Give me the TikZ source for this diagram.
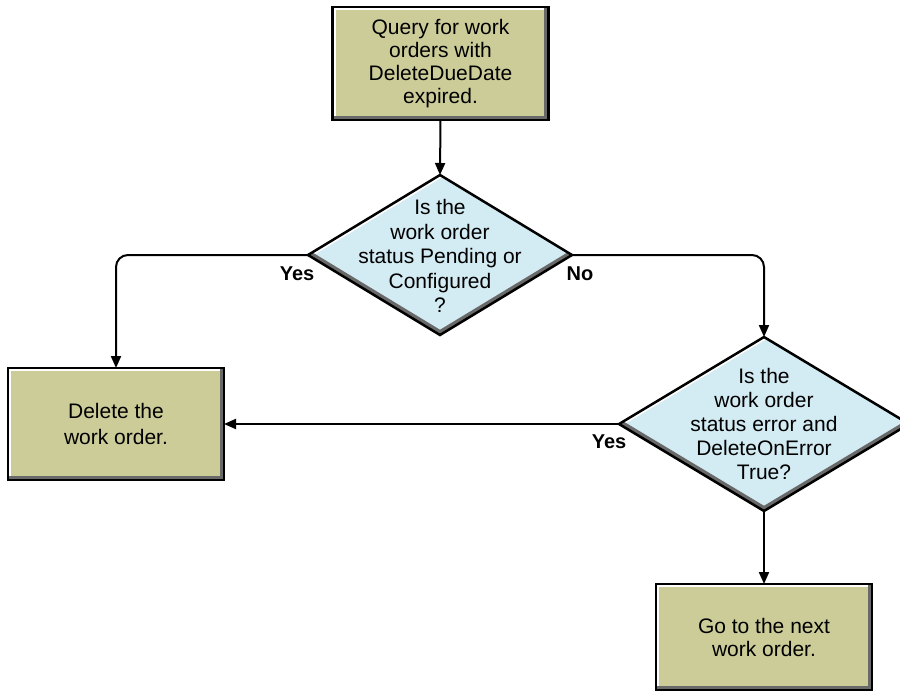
\documentclass[tikz,border=0pt]{standalone}
\usepackage{fontspec}
\setmainfont{Liberation Sans}
\usetikzlibrary{shapes.geometric,arrows.meta}
\definecolor{boxfill}{RGB}{204,204,153}
\definecolor{decfill}{RGB}{211,235,242}
\definecolor{shadegray}{RGB}{105,105,105}
\begin{document}
\begin{tikzpicture}[x=1pt,y=-1pt,
  procbox/.style={draw=black, line width=2.5pt, fill=boxfill, minimum width=216pt,
    minimum height=112pt, inner sep=0pt, outer sep=0pt, align=center,
    font=\fontsize{21}{23}\selectfont,
    path picture={
      \draw[white,line width=6pt] (path picture bounding box.south west) -- (path picture bounding box.north west) -- (path picture bounding box.north east);
      \draw[shadegray,line width=9pt] (path picture bounding box.north east) -- (path picture bounding box.south east) -- (path picture bounding box.south west);
    }},
  decision/.style={diamond, draw=black, line width=2.5pt, fill=decfill, inner sep=0pt,
    outer sep=0pt,
    path picture={
      \draw[white,line width=6pt] (path picture bounding box.west) -- (path picture bounding box.north);
      \draw[shadegray,line width=9pt] (path picture bounding box.west) -- (path picture bounding box.south) -- (path picture bounding box.east);
    }},
  dectext/.style={align=center, inner sep=0pt, font=\fontsize{21}{24.5}\selectfont},
  lbl/.style={inner sep=0pt, font=\fontsize{20}{22}\selectfont\bfseries},
  conn/.style={line width=2pt, -{Triangle[length=12pt,width=10pt]}}
]
\useasboundingbox (0,0) rectangle (900,696);
\clip (0,0) rectangle (900,696);

\node[procbox, minimum height=113pt] (q) at (440.5,63.5) {Query for work\\orders with\\DeleteDueDate\\expired.};
\node[decision, minimum width=264pt, minimum height=160pt] (d1) at (440,255) {};
\node[dectext] (t1) at (440,256) {Is the\\work order\\status Pending or\\Configured\\?};
\node[procbox, font=\fontsize{21}{26}\selectfont] (del) at (116,424) {Delete the\\work order.};
\node[decision, minimum width=290pt, minimum height=174pt] (d2) at (764,424) {};
\node[dectext, font=\fontsize{21}{24}\selectfont] (t2) at (764,424) {Is the\\work order\\status error and\\DeleteOnError\\True?};
\node[procbox, minimum height=106pt] (go) at (764,637) {Go to the next\\work order.};

\draw[conn] (q.south) -- (d1.north);
\draw[conn, rounded corners=12pt] (d1.west) -| (del.north);
\draw[conn, rounded corners=12pt] (d1.east) -| (d2.north);
\draw[conn] (d2.west) -- (del.east);
\draw[conn] (d2.south) -- (go.north);

\node[lbl] (y1) at (297,274) {Yes};
\node[lbl] (n1) at (580,274) {No};
\node[lbl] (y2) at (609,442) {Yes};
\end{tikzpicture}
\end{document}
